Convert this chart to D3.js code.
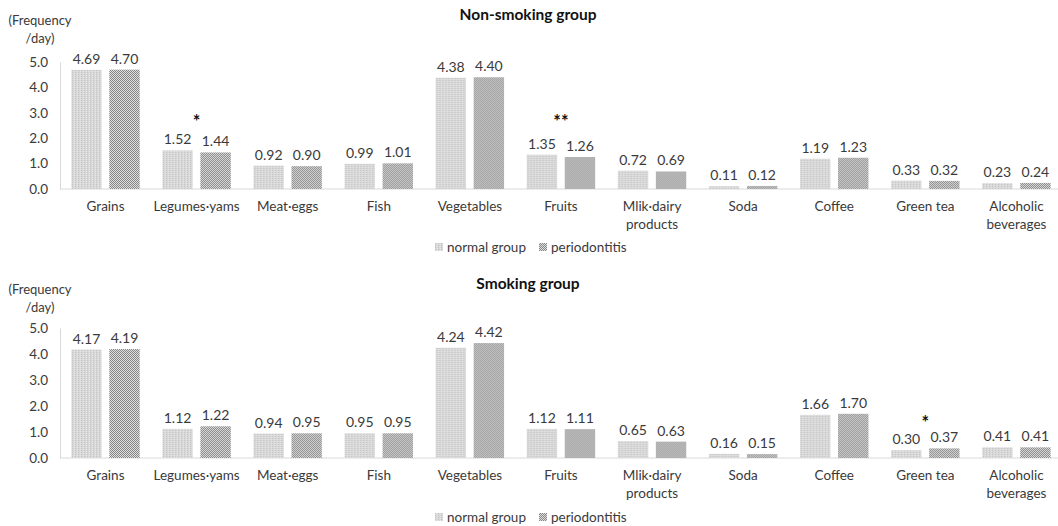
<!DOCTYPE html>
<html>
<head>
<meta charset="utf-8">
<script src="https://cdn.jsdelivr.net/npm/d3@7"></script>
<style>
  html, body { margin: 0; padding: 0; background: #fff; }
  svg { display: block; font-family: Lato, "Open Sans", sans-serif; }
</style>
</head>
<body>
<svg id="chart" width="1058" height="526"></svg>
<script>
// Food intake frequency (times/day) by smoking status and periodontal health
const categories = ["Grains", "Legumes·yams", "Meat·eggs", "Fish", "Vegetables", "Fruits",
  "Mlik·dairy|products", "Soda", "Coffee", "Green tea", "Alcoholic|beverages"];
const seriesNames = ["normal group", "periodontitis"];
const yTicks = [0, 1, 2, 3, 4, 5];

const nonSmokingNormal = [4.69, 1.52, 0.92, 0.99, 4.38, 1.35, 0.72, 0.11, 1.19, 0.33, 0.23];
const nonSmokingPerio  = [4.70, 1.44, 0.90, 1.01, 4.40, 1.26, 0.69, 0.12, 1.23, 0.32, 0.24];
const smokingNormal    = [4.17, 1.12, 0.94, 0.95, 4.24, 1.12, 0.65, 0.16, 1.66, 0.30, 0.41];
const smokingPerio     = [4.19, 1.22, 0.95, 0.95, 4.42, 1.11, 0.63, 0.15, 1.70, 0.37, 0.41];

// significance marks: category, symbol, height (in frequency units)
const nonSmokingMarks = [["Legumes·yams", "*", 2.8], ["Fruits", "**", 2.8]];
const smokingMarks    = [["Green tea", "*", 1.5]];

const svg = d3.select("#chart");
const defs = svg.append("defs");

// light fine-striped fill for the normal group
const pNormal = defs.append("pattern").attr("id", "pat-normal")
  .attr("patternUnits", "userSpaceOnUse").attr("width", 3).attr("height", 2);
pNormal.append("rect").attr("width", 3).attr("height", 2).attr("fill", "#d8d8d8");
pNormal.append("rect").attr("x", 0).attr("width", 1).attr("height", 1).attr("fill", "#c4c4c4");
pNormal.append("rect").attr("x", 2).attr("y", 1).attr("width", 1).attr("height", 1).attr("fill", "#e6e6e6");

// checkerboard fill for periodontitis
const pPerio = defs.append("pattern").attr("id", "pat-perio")
  .attr("patternUnits", "userSpaceOnUse").attr("width", 2).attr("height", 2);
pPerio.append("rect").attr("width", 2).attr("height", 2).attr("fill", "#dedede");
pPerio.append("rect").attr("width", 1).attr("height", 1).attr("fill", "#878787");
pPerio.append("rect").attr("x", 1).attr("y", 1).attr("width", 1).attr("height", 1).attr("fill", "#878787");

const fills = ["url(#pat-normal)", "url(#pat-perio)"];
const textColor = "#3a3a3a";

const x = d3.scaleBand().domain(categories).range([60, 1062]).paddingInner(0).paddingOuter(0);
const inner = d3.scaleBand().domain(seriesNames).range([11.3, 79.7]).paddingInner(0.2).paddingOuter(0);

function panel(cfg) {
  const y = d3.scaleLinear().domain([0, 5]).range([cfg.base, cfg.top]);
  const g = svg.append("g");

  g.append("text").attr("x", 528).attr("y", cfg.titleY)
    .attr("text-anchor", "middle").attr("font-weight", "bold").attr("font-size", 15.5)
    .attr("fill", "#111").text(cfg.title);

  const yl = g.append("text").attr("text-anchor", "middle").attr("font-size", 13).attr("fill", textColor);
  yl.append("tspan").attr("x", 40).attr("y", cfg.titleY + 5).text("(Frequency");
  yl.append("tspan").attr("x", 40).attr("y", cfg.titleY + 23).text("/day)");

  // y axis
  const ya = g.append("g").attr("transform", "translate(60,0)")
    .call(d3.axisLeft(y).tickValues(yTicks).tickFormat(d3.format(".1f")).tickSize(0).tickPadding(12));
  ya.select(".domain").attr("stroke", "#d9d9d9");
  ya.selectAll("text").attr("font-size", 13.5).attr("fill", textColor).attr("font-family", "Lato, 'Open Sans', sans-serif");

  // baseline
  g.append("line").attr("x1", 60).attr("x2", 1058).attr("y1", y(0)).attr("y2", y(0))
    .attr("stroke", "#d9d9d9");

  const rows = categories.map((c, i) => ({ c, vals: [cfg.normal[i], cfg.perio[i]] }));
  const grp = g.selectAll(".cat").data(rows).join("g")
    .attr("transform", d => `translate(${x(d.c)},0)`);

  grp.selectAll("rect").data(d => d.vals.map((v, k) => ({ v, k }))).join("rect")
    .attr("x", d => inner(seriesNames[d.k]))
    .attr("width", inner.bandwidth())
    .attr("y", d => y(d.v))
    .attr("height", d => y(0) - y(d.v))
    .attr("fill", d => fills[d.k]);

  grp.selectAll("text.val").data(d => d.vals.map((v, k) => ({ v, k }))).join("text")
    .attr("class", "val")
    .attr("x", d => inner(seriesNames[d.k]) + inner.bandwidth() / 2)
    .attr("y", d => y(d.v) - 6)
    .attr("text-anchor", "middle").attr("font-size", 14).attr("fill", textColor)
    .text(d => d.v.toFixed(2));

  // category labels (two lines where needed)
  grp.append("text").attr("text-anchor", "middle").attr("font-size", 13.5).attr("fill", textColor)
    .each(function(d) {
      const t = d3.select(this);
      d.c.split("|").forEach((line, j) => {
        t.append("tspan").attr("x", x.bandwidth() / 2).attr("y", y(0) + 22 + j * 18).text(line);
      });
    });

  // significance marks
  g.selectAll(".sig").data(cfg.marks).join("text")
    .attr("x", d => x(d[0]) + x.bandwidth() / 2)
    .attr("y", d => y(d[2]) + 10)
    .attr("text-anchor", "middle").attr("font-size", 18).attr("font-weight", "bold").attr("fill", "#111")
    .text(d => d[1]);

  // legend
  const lg = g.append("g").attr("transform", `translate(0,${cfg.legendY})`);
  const items = [{ x: 435, name: seriesNames[0], f: fills[0] }, { x: 539, name: seriesNames[1], f: fills[1] }];
  items.forEach(it => {
    lg.append("rect").attr("x", it.x).attr("y", -4).attr("width", 8).attr("height", 8).attr("fill", it.f);
    lg.append("text").attr("x", it.x + 12).attr("y", 4.5).attr("font-size", 13.5).attr("fill", textColor).text(it.name);
  });
}

panel({ title: "Non-smoking group", titleY: 20, base: 189, top: 62,
  normal: nonSmokingNormal, perio: nonSmokingPerio, marks: nonSmokingMarks, legendY: 247 });
panel({ title: "Smoking group", titleY: 289, base: 458, top: 328,
  normal: smokingNormal, perio: smokingPerio, marks: smokingMarks, legendY: 517 });
</script>
</body>
</html>
